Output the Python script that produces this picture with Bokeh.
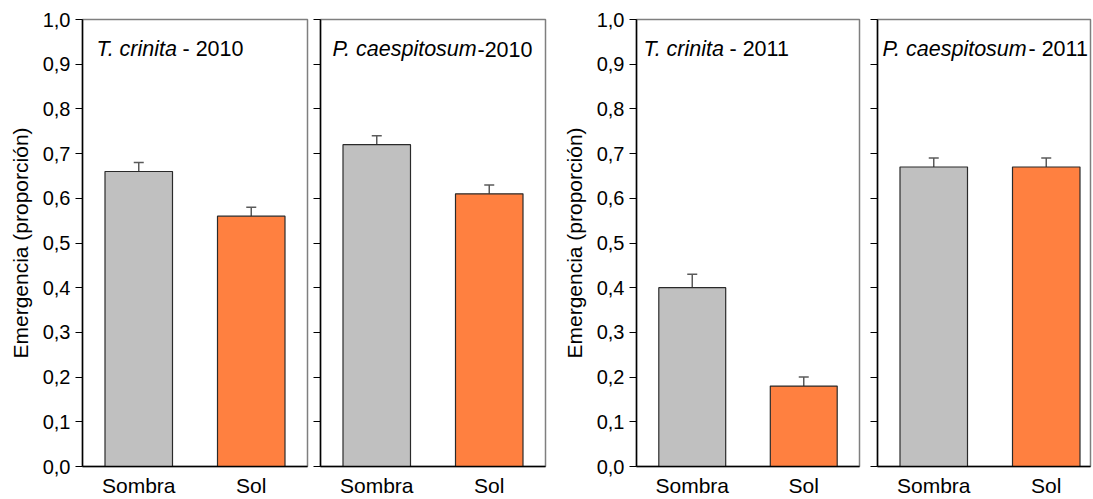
import json
from bokeh.plotting import figure
from bokeh.models import (Range1d, FixedTicker, CustomJSTickFormatter, Whisker,
                          ColumnDataSource, Label, TeeHead)
from bokeh.layouts import row
from bokeh.embed import file_html
from bokeh.resources import INLINE

# ---------------- data ----------------
categories = ["Sombra", "Sol"]
panel_species = ["T. crinita", "P. caespitosum", "T. crinita", "P. caespitosum"]
panel_years = ["- 2010", "-2010", "- 2011", "- 2011"]
tc_2010_mean = [0.66, 0.56]
tc_2010_err = [0.02, 0.02]
pc_2010_mean = [0.72, 0.61]
pc_2010_err = [0.02, 0.02]
tc_2011_mean = [0.40, 0.18]
tc_2011_err = [0.03, 0.02]
pc_2011_mean = [0.67, 0.67]
pc_2011_err = [0.02, 0.02]
y_ticks = [0.0, 0.1, 0.2, 0.3, 0.4, 0.5, 0.6, 0.7, 0.8, 0.9, 1.0]
y_label = "Emergencia (proporción)"
bar_colors = ["#C0C0C0", "#FF8040"]

means = [tc_2010_mean, pc_2010_mean, tc_2011_mean, pc_2011_mean]
errs = [tc_2010_err, pc_2010_err, tc_2011_err, pc_2011_err]

# ---------------- layout (pixels) ----------------
FONT = "Liberation Sans"
H = 499
TOP, BOTTOM = 19, 31
# (border_left, frame_width, border_right, show_labels, x_end, title offsets)
specs = [
    (82, 225, 6, True, 2.0, 14, 100),
    (7, 225, 7, False, 2.0, 12, 157),
    (84, 223, 9, True, 2.0, 7, 93),
    (9, 213, 3, False, 213 / 112.5, 5, 151),
]

fmt_y = CustomJSTickFormatter(code="return tick.toFixed(1).replace('.', ',');")
fmt_none = CustomJSTickFormatter(code="return '';")
fmt_x = CustomJSTickFormatter(
    code="var labs = %s; var i = Math.round(tick - 0.5); return labs[i] || '';"
    % json.dumps(categories))

figs = []
for k, (bl, fw, br, show, xend, t1, t2) in enumerate(specs):
    p = figure(width=bl + fw + br, height=H, output_backend="svg",
               toolbar_location=None, x_range=Range1d(0, xend),
               y_range=Range1d(0, 1.0), min_border_left=bl,
               min_border_right=br, min_border_top=TOP,
               min_border_bottom=BOTTOM)
    p.xgrid.visible = False
    p.ygrid.visible = False
    p.background_fill_color = "white"
    p.border_fill_color = "white"
    p.outline_line_color = "#7F7F7F"
    p.outline_line_width = 1.5

    xs = [i + 0.5 for i in range(len(categories))]
    src = ColumnDataSource(dict(x=xs, top=means[k], color=bar_colors,
                                upper=[m + e for m, e in zip(means[k], errs[k])],
                                lower=means[k]))
    p.vbar(x="x", top="top", width=0.6, bottom=0, source=src,
           fill_color="color", line_color="#2A2A2A", line_width=1.2)
    w = Whisker(base="x", upper="upper", lower="lower", source=src,
                dimension="height", line_color="#5A5A5A", line_width=1.5,
                upper_head=TeeHead(size=10, line_color="#5A5A5A", line_width=1.5),
                lower_head=None)
    p.add_layout(w)

    # y axis
    ya = p.yaxis[0]
    ya.ticker = FixedTicker(ticks=y_ticks, minor_ticks=[])
    ya.axis_line_color = "black"
    ya.axis_line_width = 1.5
    ya.major_tick_line_color = "black"
    ya.major_tick_line_width = 1.2
    ya.major_tick_out = 7
    ya.major_tick_in = 0
    ya.minor_tick_out = 0
    ya.minor_tick_in = 0
    ya.major_label_text_font = FONT
    ya.major_label_text_color = "black"
    if show:
        ya.formatter = fmt_y
        ya.major_label_text_font_size = "20px"
        ya.major_label_standoff = 5
        ya.axis_label = y_label
        ya.axis_label_text_font = FONT
        ya.axis_label_text_font_size = "21px"
        ya.axis_label_text_font_style = "normal"
        ya.axis_label_text_color = "black"
        ya.axis_label_standoff = 8
    else:
        ya.formatter = fmt_none
        ya.major_label_text_font_size = "0px"
        ya.major_label_standoff = 0

    # x axis
    xa = p.xaxis[0]
    xa.ticker = FixedTicker(ticks=xs, minor_ticks=[])
    xa.formatter = fmt_x
    xa.axis_line_color = "black"
    xa.axis_line_width = 1.5
    xa.major_tick_out = 0
    xa.major_tick_in = 0
    xa.minor_tick_out = 0
    xa.minor_tick_in = 0
    xa.major_label_text_font = FONT
    xa.major_label_text_font_size = "21px"
    xa.major_label_text_color = "black"
    xa.major_label_standoff = 7

    # panel title (italic species + normal year)
    px_per_unit = fw / xend
    ybase = 1.0 - 30.0 / 449.0
    p.add_layout(Label(x=t1 / px_per_unit, y=ybase, text=panel_species[k],
                       text_font=FONT, text_font_size="21.5px",
                       text_font_style="italic", text_color="black",
                       text_baseline="alphabetic"))
    p.add_layout(Label(x=t2 / px_per_unit, y=ybase, text=panel_years[k],
                       text_font=FONT, text_font_size="21.5px",
                       text_font_style="normal", text_color="black",
                       text_baseline="alphabetic"))
    figs.append(p)

layout = row(*figs, spacing=0)
open("out.html", "w").write(file_html(layout, INLINE))
